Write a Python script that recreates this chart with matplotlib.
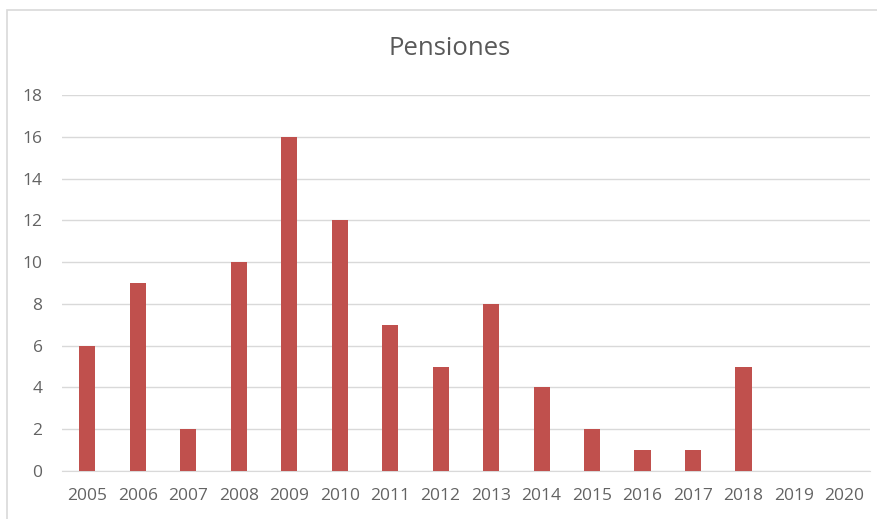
import matplotlib.pyplot as plt
from matplotlib.patches import Rectangle

years = [str(y) for y in range(2005, 2021)]
pensiones = [6, 9, 2, 10, 16, 12, 7, 5, 8, 4, 2, 1, 1, 5, 0, 0]
yticks = [0, 2, 4, 6, 8, 10, 12, 14, 16, 18]

plt.rcParams['font.family'] = ['Open Sans', 'DejaVu Sans']

fig = plt.figure(figsize=(8.78, 5.19), dpi=100)
ax = fig.add_axes([0.0706, 0.0925, 0.92, 0.7245])

# borde del gráfico (solo se ven arriba y a la izquierda)
fig.patches.append(Rectangle((7 / 878, -0.05), 1.1, 1.05 - 10 / 519, transform=fig.transFigure,
                             fill=False, edgecolor='#D9D9D9', linewidth=1.2))

x = range(len(years))
ax.bar(x, pensiones, width=0.32, color='#C0504D', zorder=3)

ax.set_xlim(-0.5, len(years) - 0.5)
ax.set_ylim(0, 18)
ax.set_yticks(yticks)
ax.set_xticks(list(x))
ax.set_xticklabels(years)
ax.grid(axis='y', color='#D9D9D9', linewidth=1, zorder=0)
for s in ['top', 'right', 'left']:
    ax.spines[s].set_visible(False)
ax.spines['bottom'].set_color('#D9D9D9')
ax.tick_params(axis='both', length=0, labelsize=12.5, colors='#636363')
ax.tick_params(axis='y', pad=14)
ax.tick_params(axis='x', pad=12)

fig.text(450 / 878, 0.907, 'Pensiones', ha='center', va='center', fontsize=18.5, color='#595959')

fig.savefig('out.png', dpi=100)
